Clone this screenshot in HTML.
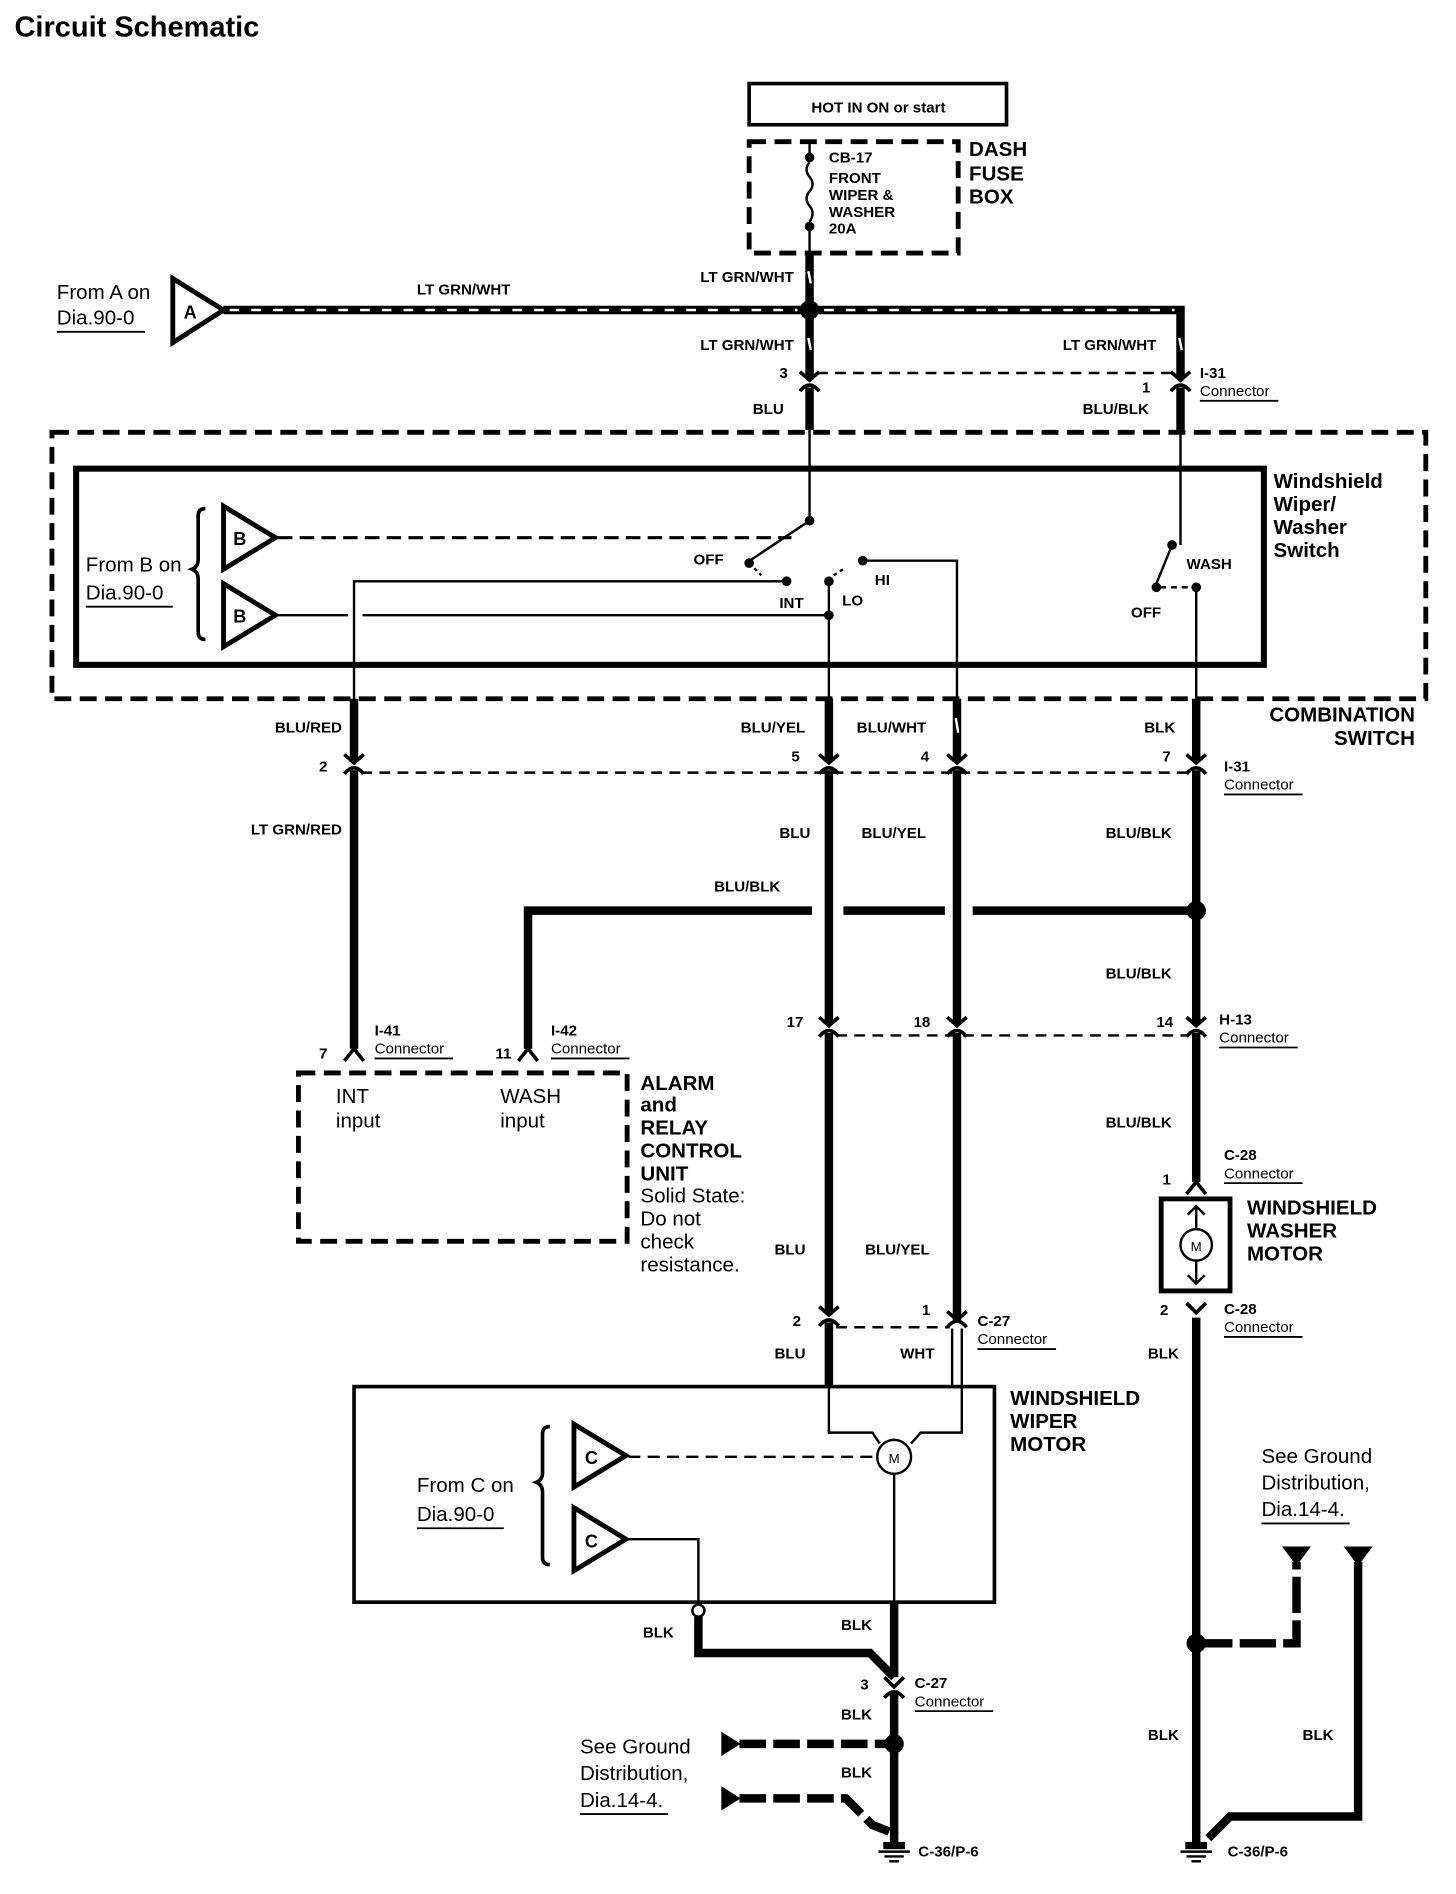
<!DOCTYPE html>
<html><head><meta charset="utf-8"><style>
html,body{margin:0;padding:0;background:#fff}
svg{display:block}
text{font-family:"Liberation Sans",Arial,sans-serif;fill:#000}
.b{font-weight:bold;font-size:12.5px}
.h{font-weight:bold;font-size:17px}
.r{font-size:17px}
.s{font-size:12.5px}
</style></head><body>
<svg width="1456" height="1894" viewBox="0 0 1205 1564" preserveAspectRatio="none" xmlns="http://www.w3.org/2000/svg">
<defs>
<g id="cn"><rect x="-7" y="-4" width="14" height="8" fill="#fff"/><path d="M-8,-9 L0,-2 L8,-9" stroke="#000" stroke-width="3" fill="none"/><path d="M-8,7 Q0,-3 8,7" stroke="#000" stroke-width="3" fill="none"/></g>
<g id="gnd"><line x1="0" y1="-12" x2="0" y2="0" stroke="#000" stroke-width="7"/><rect x="-9" y="-4" width="18" height="6" fill="#000"/><line x1="-13" y1="4" x2="13" y2="4" stroke="#000" stroke-width="2"/><line x1="-8" y1="8" x2="8" y2="8" stroke="#000" stroke-width="2"/><line x1="-4" y1="12" x2="4" y2="12" stroke="#000" stroke-width="2"/></g>
</defs>
<text x="12" y="30" style="font-weight:bold;font-size:24px">Circuit Schematic</text>

<!-- HOT box -->
<rect x="620" y="69" width="213" height="34" fill="none" stroke="#000" stroke-width="3"/>
<text x="727" y="93" class="b" text-anchor="middle">HOT IN ON or start</text>
<rect x="620" y="117" width="173" height="92" fill="none" stroke="#000" stroke-width="4" stroke-dasharray="14,7"/>
<line x1="670" y1="117" x2="670" y2="130" stroke="#000" stroke-width="2"/>
<circle cx="670" cy="130" r="4"/><circle cx="670" cy="187" r="4"/>
<path d="M670,134 q-5,6 0,12 q5,6 0,12 q-5,6 0,12 q5,6 0,13" fill="none" stroke="#000" stroke-width="2"/>
<line x1="670" y1="187" x2="670" y2="209" stroke="#000" stroke-width="2"/>
<text x="686" y="134" class="b">CB-17</text><text x="686" y="151" class="b">FRONT</text><text x="686" y="165" class="b">WIPER &amp;</text><text x="686" y="179" class="b">WASHER</text><text x="686" y="193" class="b">20A</text>
<text x="802" y="129" class="h">DASH</text><text x="802" y="149" class="h">FUSE</text><text x="802" y="168" class="h">BOX</text>

<!-- top wires -->
<g stroke="#000" stroke-width="7" fill="none">
<line x1="670" y1="209" x2="670" y2="355"/>
<path d="M185,256 H977 V355"/>
</g>
<path d="M190,256 H660 M682,256 H972" stroke="#fff" stroke-width="2" stroke-dasharray="8,10"/>
<circle cx="670" cy="256" r="8"/>
<line x1="669" y1="224" x2="671" y2="234" stroke="#fff" stroke-width="2"/>
<line x1="669" y1="279" x2="671" y2="289" stroke="#fff" stroke-width="2"/>
<line x1="976" y1="279" x2="978" y2="289" stroke="#fff" stroke-width="2"/>
<polygon points="143,230 143,283 185,256" fill="#fff" stroke="#000" stroke-width="4"/>
<text x="152" y="263" class="b" style="font-size:15px">A</text>
<text x="47" y="247" class="r">From A on</text><text x="47" y="268" class="r">Dia.90-0</text>
<line x1="47" y1="274" x2="120" y2="274" stroke="#000" stroke-width="1.5"/>
<text x="345" y="243" class="b">LT GRN/WHT</text>
<text x="657" y="233" class="b" text-anchor="end">LT GRN/WHT</text>
<text x="657" y="289" class="b" text-anchor="end">LT GRN/WHT</text>
<text x="957" y="289" class="b" text-anchor="end">LT GRN/WHT</text>
<line x1="676" y1="308" x2="972" y2="308" stroke="#000" stroke-width="2" stroke-dasharray="9,6"/>
<use href="#cn" x="670" y="316"/><use href="#cn" x="977" y="316"/>
<text x="645" y="312" class="b">3</text><text x="945" y="324" class="b">1</text>
<text x="993" y="312" class="b">I-31</text><text x="993" y="327" class="s">Connector</text>
<line x1="993" y1="331" x2="1058" y2="331" stroke="#000" stroke-width="1.5"/>
<text x="623" y="342" class="b">BLU</text><text x="896" y="342" class="b">BLU/BLK</text>

<!-- combination switch -->
<rect x="43" y="357" width="1137" height="220" fill="none" stroke="#000" stroke-width="4" stroke-dasharray="14,7"/>
<rect x="63" y="387" width="983" height="162" fill="none" stroke="#000" stroke-width="5"/>
<g stroke="#000" stroke-width="2" fill="none">
<line x1="670" y1="355" x2="670" y2="430"/>
<line x1="670" y1="430" x2="622" y2="462"/>
<line x1="977" y1="355" x2="977" y2="450"/>
<line x1="970" y1="450" x2="957" y2="482"/>
<path d="M714,463 H792 V577"/>
<path d="M651,480 H293 V577"/>
<line x1="686" y1="480" x2="686" y2="577"/>
<line x1="990" y1="485" x2="990" y2="577"/>
<path d="M230,508 H288 M300,508 H686"/>
<path d="M230,444 H655" stroke-dasharray="12,6" stroke-width="2.5"/>
<path d="M620,465 L630,475 M640,480 L646,480 M690,475 L698,470" stroke-dasharray="3,3"/>
<path d="M960,485 L984,485" stroke-dasharray="5,4"/>
<path d="M170,420 q-6,0 -6,6 v36 q0,6 -5,8 q5,2 5,8 v44 q0,6 6,6" stroke-width="3"/>
</g>
<line x1="977" y1="355" x2="977" y2="357" stroke="#000" stroke-width="7"/>
<circle cx="670" cy="430" r="4"/><circle cx="620" cy="465" r="4"/><circle cx="651" cy="480" r="4"/><circle cx="686" cy="480" r="4"/><circle cx="714" cy="463" r="4"/><circle cx="686" cy="508" r="4"/>
<circle cx="970" cy="450" r="4"/><circle cx="957" cy="485" r="4"/><circle cx="990" cy="485" r="4"/>
<polygon points="185,418 185,470 228,444" fill="#fff" stroke="#000" stroke-width="4"/>
<polygon points="185,482 185,534 228,508" fill="#fff" stroke="#000" stroke-width="4"/>
<text x="193" y="450" class="b" style="font-size:15px">B</text><text x="193" y="514" class="b" style="font-size:15px">B</text>
<text x="71" y="472" class="r">From B on</text><text x="71" y="495" class="r">Dia.90-0</text>
<line x1="71" y1="501" x2="143" y2="501" stroke="#000" stroke-width="1.5"/>
<text x="574" y="466" class="b">OFF</text><text x="645" y="502" class="b">INT</text><text x="697" y="500" class="b">LO</text><text x="724" y="483" class="b">HI</text>
<text x="982" y="470" class="b">WASH</text><text x="936" y="510" class="b">OFF</text>
<text x="1054" y="403" class="h">Windshield</text><text x="1054" y="422" class="h">Wiper/</text><text x="1054" y="441" class="h">Washer</text><text x="1054" y="460" class="h">Switch</text>

<!-- middle wires -->
<g stroke="#000" stroke-width="7" fill="none">
<line x1="293" y1="577" x2="293" y2="866"/>
<line x1="686" y1="577" x2="686" y2="1145"/>
<line x1="792" y1="577" x2="792" y2="1092"/>
<line x1="990" y1="577" x2="990" y2="976"/>
<path d="M437,866 V752 H672 M698,752 H782 M805,752 H990"/>
</g>
<line x1="791" y1="593" x2="793" y2="605" stroke="#fff" stroke-width="2"/>
<circle cx="990" cy="752" r="8"/>
<text x="283" y="605" class="b" text-anchor="end">BLU/RED</text><text x="613" y="605" class="b">BLU/YEL</text><text x="709" y="605" class="b">BLU/WHT</text><text x="947" y="605" class="b">BLK</text>
<text x="1171" y="596" class="h" text-anchor="end">COMBINATION</text><text x="1171" y="615" class="h" text-anchor="end">SWITCH</text>
<line x1="299" y1="638" x2="984" y2="638" stroke="#000" stroke-width="2" stroke-dasharray="9,6"/>
<use href="#cn" x="293" y="632"/><use href="#cn" x="686" y="632"/><use href="#cn" x="792" y="632"/><use href="#cn" x="990" y="632"/>
<text x="264" y="637" class="b">2</text><text x="655" y="629" class="b">5</text><text x="762" y="629" class="b">4</text><text x="962" y="629" class="b">7</text>
<text x="1013" y="637" class="b">I-31</text><text x="1013" y="652" class="s">Connector</text>
<line x1="1013" y1="656" x2="1078" y2="656" stroke="#000" stroke-width="1.5"/>
<text x="283" y="689" class="b" text-anchor="end">LT GRN/RED</text><text x="645" y="692" class="b">BLU</text><text x="713" y="692" class="b">BLU/YEL</text><text x="915" y="692" class="b">BLU/BLK</text>
<text x="591" y="736" class="b">BLU/BLK</text><text x="915" y="808" class="b">BLU/BLK</text>
<line x1="692" y1="855" x2="984" y2="855" stroke="#000" stroke-width="2" stroke-dasharray="9,6"/>
<use href="#cn" x="686" y="849"/><use href="#cn" x="792" y="849"/><use href="#cn" x="990" y="849"/>
<text x="651" y="848" class="b">17</text><text x="756" y="848" class="b">18</text><text x="957" y="848" class="b">14</text>
<text x="1009" y="846" class="b">H-13</text><text x="1009" y="861" class="s">Connector</text>
<line x1="1009" y1="865" x2="1074" y2="865" stroke="#000" stroke-width="1.5"/>
<path d="M285,876 L293,866 L301,876 M429,876 L437,866 L445,876" stroke="#000" stroke-width="3" fill="none"/>
<text x="264" y="874" class="b">7</text><text x="410" y="874" class="b">11</text>
<text x="310" y="855" class="b">I-41</text><text x="310" y="870" class="s">Connector</text>
<line x1="310" y1="874" x2="375" y2="874" stroke="#000" stroke-width="1.5"/>
<text x="456" y="855" class="b">I-42</text><text x="456" y="870" class="s">Connector</text>
<line x1="456" y1="874" x2="521" y2="874" stroke="#000" stroke-width="1.5"/>

<!-- alarm unit -->
<rect x="247" y="886" width="272" height="139" fill="none" stroke="#000" stroke-width="4" stroke-dasharray="14,7"/>
<text x="278" y="911" class="r">INT</text><text x="278" y="931" class="r">input</text>
<text x="414" y="911" class="r">WASH</text><text x="414" y="931" class="r">input</text>
<text x="530" y="900" class="h">ALARM</text><text x="530" y="918" class="h">and</text><text x="530" y="937" class="h">RELAY</text><text x="530" y="956" class="h">CONTROL</text><text x="530" y="975" class="h">UNIT</text>
<text x="530" y="993" class="r">Solid State:</text><text x="530" y="1012" class="r">Do not</text><text x="530" y="1031" class="r">check</text><text x="530" y="1050" class="r">resistance.</text>

<!-- washer motor -->
<text x="915" y="931" class="b">BLU/BLK</text>
<path d="M982,986 L990,976 L998,986" stroke="#000" stroke-width="3" fill="none"/>
<text x="962" y="978" class="b">1</text>
<text x="1013" y="958" class="b">C-28</text><text x="1013" y="973" class="s">Connector</text>
<line x1="1013" y1="977" x2="1078" y2="977" stroke="#000" stroke-width="1.5"/>
<rect x="961" y="990" width="57" height="76" fill="none" stroke="#000" stroke-width="4"/>
<circle cx="990" cy="1028" r="13" fill="#fff" stroke="#000" stroke-width="2"/>
<text x="990" y="1033" class="s" text-anchor="middle" style="font-size:11px">M</text>
<path d="M990,996 V1015 M990,1041 V1060 M983,1003 L990,996 L997,1003 M983,1053 L990,1060 L997,1053" stroke="#000" stroke-width="2" fill="none"/>
<text x="1032" y="1003" class="h">WINDSHIELD</text><text x="1032" y="1022" class="h">WASHER</text><text x="1032" y="1041" class="h">MOTOR</text>
<path d="M982,1076 L990,1084 L998,1076" stroke="#000" stroke-width="3" fill="none"/>
<text x="960" y="1086" class="b">2</text>
<text x="1013" y="1085" class="b">C-28</text><text x="1013" y="1100" class="s">Connector</text>
<line x1="1013" y1="1104" x2="1078" y2="1104" stroke="#000" stroke-width="1.5"/>
<text x="950" y="1122" class="b">BLK</text>

<!-- C-27 -->
<text x="641" y="1036" class="b">BLU</text><text x="716" y="1036" class="b">BLU/YEL</text>
<line x1="692" y1="1096" x2="786" y2="1096" stroke="#000" stroke-width="2" stroke-dasharray="9,6"/>
<use href="#cn" x="686" y="1088"/>
<path d="M784,1083 L792,1090 L800,1083 M784,1096 Q792,1086 800,1096" stroke="#000" stroke-width="3" fill="none"/>
<text x="656" y="1095" class="b">2</text><text x="763" y="1086" class="b">1</text>
<text x="809" y="1095" class="b">C-27</text><text x="809" y="1110" class="s">Connector</text>
<line x1="809" y1="1114" x2="874" y2="1114" stroke="#000" stroke-width="1.5"/>
<text x="641" y="1122" class="b">BLU</text><text x="745" y="1122" class="b">WHT</text>
<path d="M788,1097 V1145 M796,1097 V1145" stroke="#000" stroke-width="2"/>

<!-- wiper motor -->
<rect x="293" y="1145" width="530" height="178" fill="none" stroke="#000" stroke-width="3"/>
<g stroke="#000" stroke-width="2" fill="none">
<path d="M686,1145 V1183 H722 L728,1192"/>
<path d="M796,1145 V1183 H762 L754,1192"/>
<path d="M520,1203 H726" stroke-dasharray="10,6"/>
<line x1="740" y1="1217" x2="740" y2="1323"/>
<path d="M520,1271 H578 V1326"/>
<path d="M455,1178 q-6,0 -6,6 v32 q0,6 -5,8 q5,2 5,8 v54 q0,6 6,6" stroke-width="3"/>
</g>
<circle cx="740" cy="1203" r="14" fill="#fff" stroke="#000" stroke-width="2"/>
<text x="740" y="1208" class="s" text-anchor="middle" style="font-size:11px">M</text>
<polygon points="475,1176 475,1228 518,1202" fill="#fff" stroke="#000" stroke-width="4"/>
<polygon points="475,1245 475,1297 518,1271" fill="#fff" stroke="#000" stroke-width="4"/>
<text x="484" y="1209" class="b" style="font-size:15px">C</text><text x="484" y="1278" class="b" style="font-size:15px">C</text>
<text x="345" y="1232" class="r">From C on</text><text x="345" y="1256" class="r">Dia.90-0</text>
<line x1="345" y1="1262" x2="417" y2="1262" stroke="#000" stroke-width="1.5"/>
<text x="836" y="1160" class="h">WINDSHIELD</text><text x="836" y="1179" class="h">WIPER</text><text x="836" y="1198" class="h">MOTOR</text>

<!-- bottom left -->
<g stroke="#000" stroke-width="7" fill="none">
<path d="M578,1334 V1365 H720 L740,1385"/>
<line x1="740" y1="1323" x2="740" y2="1385"/>
<line x1="740" y1="1398" x2="740" y2="1514"/>
<path d="M612,1440 H740" stroke-dasharray="22,6"/>
<path d="M612,1485 H700 L722,1507 L740,1514" stroke-dasharray="22,6"/>
</g>
<circle cx="578" cy="1330" r="5" fill="#fff" stroke="#000" stroke-width="2"/>
<circle cx="740" cy="1440" r="8"/>
<path d="M732,1385 L740,1393 L748,1385 M732,1402 Q740,1392 748,1402" stroke="#000" stroke-width="3" fill="none"/>
<polygon points="597,1430 597,1450 613,1440"/><polygon points="597,1475 597,1495 613,1485"/>
<use href="#gnd" x="740" y="1525"/>
<text x="760" y="1533" class="b">C-36/P-6</text>
<text x="532" y="1352" class="b">BLK</text><text x="696" y="1346" class="b">BLK</text><text x="696" y="1420" class="b">BLK</text><text x="696" y="1468" class="b">BLK</text>
<text x="712" y="1395" class="b">3</text>
<text x="757" y="1394" class="b">C-27</text><text x="757" y="1409" class="s">Connector</text>
<line x1="757" y1="1413" x2="822" y2="1413" stroke="#000" stroke-width="1.5"/>
<text x="480" y="1448" class="r">See Ground</text><text x="480" y="1470" class="r">Distribution,</text><text x="480" y="1492" class="r">Dia.14-4.</text>
<line x1="480" y1="1498" x2="553" y2="1498" stroke="#000" stroke-width="1.5"/>

<!-- bottom right -->
<g stroke="#000" stroke-width="7" fill="none">
<line x1="990" y1="1088" x2="990" y2="1514"/>
<path d="M990,1357 H1073 V1290" stroke-dasharray="30,6"/>
<path d="M1124,1290 V1500 H1018 L1000,1518"/>
</g>
<circle cx="990" cy="1357" r="8"/>
<polygon points="1061,1277 1085,1277 1073,1293"/><polygon points="1112,1277 1136,1277 1124,1293"/>
<use href="#gnd" x="990" y="1525"/>
<text x="1016" y="1533" class="b">C-36/P-6</text>
<text x="950" y="1437" class="b">BLK</text><text x="1078" y="1437" class="b">BLK</text>
<text x="1044" y="1208" class="r">See Ground</text><text x="1044" y="1230" class="r">Distribution,</text><text x="1044" y="1252" class="r">Dia.14-4.</text>
<line x1="1044" y1="1258" x2="1117" y2="1258" stroke="#000" stroke-width="1.5"/>
</svg>
</body></html>
